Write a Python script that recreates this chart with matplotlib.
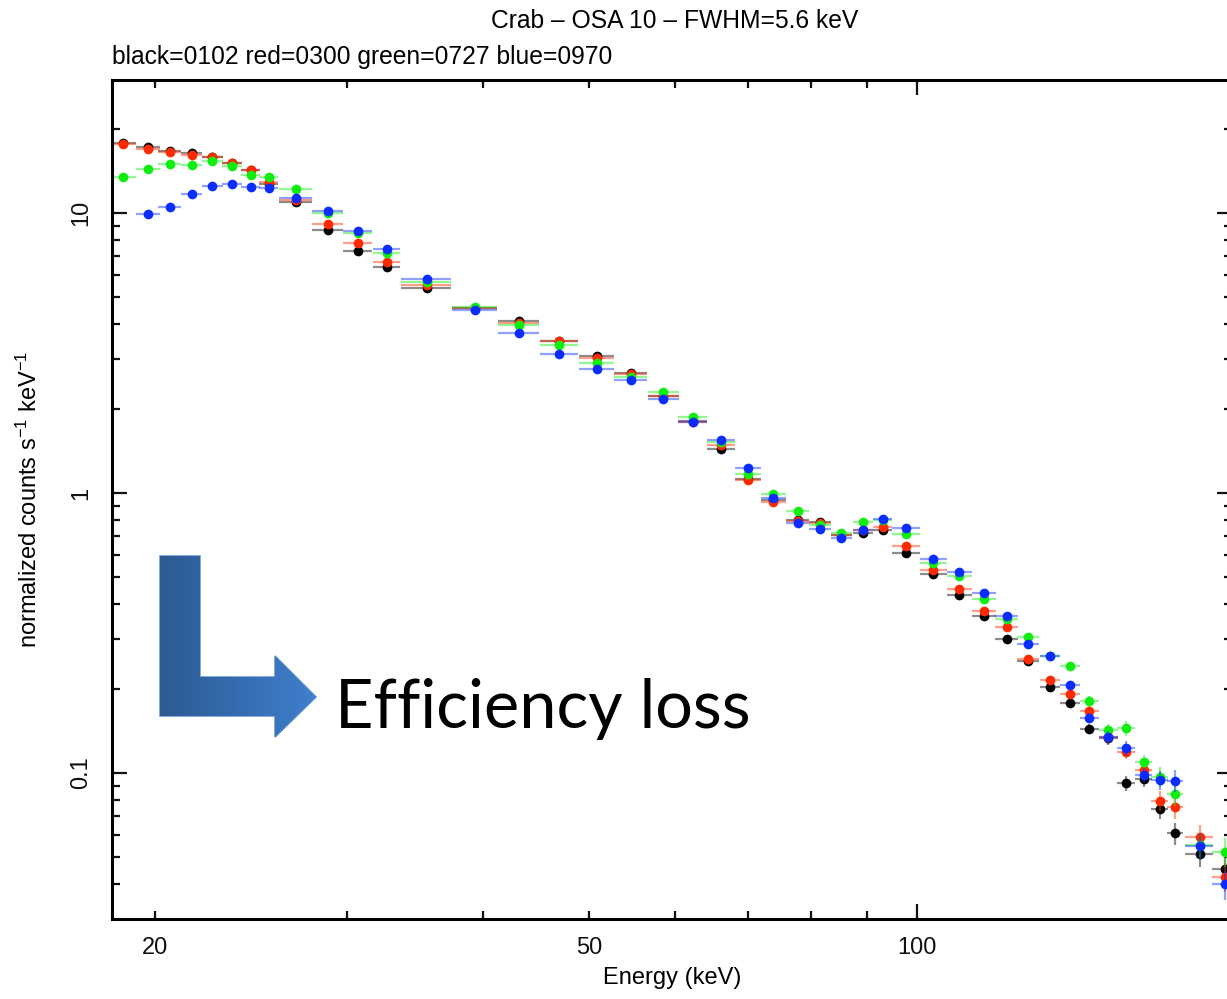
import numpy as np
import matplotlib
matplotlib.use("Agg")
import matplotlib.pyplot as plt
from matplotlib.patches import Polygon
from matplotlib.ticker import FixedLocator, NullFormatter, FuncFormatter

plt.rcParams['font.family'] = ['Liberation Sans', 'DejaVu Sans']
plt.rcParams['mathtext.fontset'] = 'custom'
plt.rcParams['mathtext.rm'] = 'Liberation Sans'
plt.rcParams['mathtext.it'] = 'Liberation Sans'

# Bin centres (keV) and half widths
energy = [18.70, 19.70, 20.64, 21.61, 22.58, 23.52, 24.48, 25.44, 26.92, 28.81,
          30.69, 32.63, 35.50, 39.32, 43.15, 46.97, 50.84, 54.67, 58.54, 62.28,
          66.12, 69.96, 73.85, 77.76, 81.56, 85.25, 89.19, 93.04, 97.73, 103.53,
          109.37, 115.23, 120.89, 126.53, 132.46, 138.19, 143.85, 149.84, 155.56,
          161.35, 166.89, 172.52, 181.60, 191.73]
half_width = [0.5] * 8 + [0.95] * 4 + [1.9] * 16 + [2.8] + [2.9] * 13 + [5.3, 5.3]

# relative 1-sigma errors (same for all revolutions)
rel_err = [0.005] * 28 + [0.01, 0.012, 0.015, 0.018, 0.02, 0.025, 0.03, 0.035,
                          0.04, 0.05, 0.06, 0.06, 0.08, 0.09, 0.1, 0.12]

black = [17.74, 17.17, 16.65, 16.34, 15.84, 15.05, 14.24, 12.69, 10.92, 8.70,
         7.33, 6.40, 5.40, 4.58, 4.12, 3.50, 3.09, 2.68, 2.22, 1.81,
         1.44, 1.122, 0.944, 0.801, 0.790, 0.708, 0.721, 0.738, 0.609, 0.514,
         0.432, 0.365, 0.300, 0.251, 0.203, 0.178, 0.1436, 0.133, 0.0919,
         0.0949, 0.0742, 0.0609, 0.0512, 0.0454]
red = [17.6, 16.97, 16.51, 16.07, 15.81, 15.05, 14.24, 12.87, 11.13, 9.13,
       7.79, 6.67, 5.53, 4.58, 4.06, 3.48, 3.04, 2.66, 2.22, 1.79,
       1.48, 1.113, 0.927, 0.796, 0.781, 0.708, 0.738, 0.758, 0.647, 0.531,
       0.454, 0.380, 0.331, 0.255, 0.214, 0.191, 0.167, 0.134, 0.119,
       0.1025, 0.0796, 0.0754, 0.0592, 0.0426]
green = [13.41, 14.32, 14.96, 14.80, 15.34, 14.76, 13.63, 13.48, 12.22, 9.98,
         8.48, 7.18, 5.67, 4.63, 3.98, 3.38, 2.92, 2.60, 2.30, 1.87,
         1.52, 1.169, 0.992, 0.862, 0.767, 0.718, 0.790, 0.801, 0.712, 0.562,
         0.505, 0.417, 0.355, 0.305, 0.262, 0.241, 0.181, 0.1424, 0.1444,
         0.1098, 0.0970, 0.0839, 0.0552, 0.0524]
blue = [np.nan, 9.89, 10.53, 11.69, 12.49, 12.73, 12.36, 12.29, 11.31, 10.19,
        8.63, 7.42, 5.81, 4.50, 3.74, 3.13, 2.77, 2.53, 2.16, 1.79,
        1.54, 1.231, 0.962, 0.783, 0.742, 0.689, 0.738, 0.806, 0.750, 0.581,
        0.524, 0.438, 0.364, 0.289, 0.262, 0.206, 0.157, 0.1341, 0.1225,
        0.0982, 0.0944, 0.0939, 0.0550, 0.0400]

series = [(black, 'black'), (red, '#ff2a00'), (green, '#10ee10'), (blue, '#0a2cff')]

fig = plt.figure(figsize=(12.27, 9.99), dpi=100)
ax = fig.add_axes([112 / 1227, 80 / 999, 1120 / 1227, 839 / 999])

x = np.array(energy)
for vals, col in series:
    y = np.array(vals)
    ax.errorbar(x, y, xerr=half_width, yerr=y * np.array(rel_err), fmt='none',
                ecolor=col, elinewidth=1.6, alpha=0.45, capsize=0)
    ax.plot(x, y, 'o', color=col, markersize=7, markeredgewidth=0)

ax.set_xscale('log')
ax.set_yscale('log')
ax.set_xlim(18.265, 194.5)
ax.set_ylim(0.0301, 29.85)

ax.xaxis.set_major_locator(FixedLocator([10, 100]))
ax.xaxis.set_minor_locator(FixedLocator([20, 30, 40, 50, 60, 70, 80, 90, 200]))
ax.xaxis.set_major_formatter(FuncFormatter(lambda v, p: '%d' % v))
ax.xaxis.set_minor_formatter(FuncFormatter(lambda v, p: '%d' % v if v in (20, 50) else ''))
ax.yaxis.set_major_locator(FixedLocator([0.1, 1, 10]))
ax.yaxis.set_minor_locator(FixedLocator([m * 10.0 ** d for d in (-2, -1, 0, 1) for m in range(2, 10)]))
ax.yaxis.set_major_formatter(FuncFormatter(lambda v, p: '%g' % v))
ax.yaxis.set_minor_formatter(NullFormatter())

ax.tick_params(which='both', direction='in', top=True, right=True, width=1.6,
               labelsize=17, colors='#111111')
ax.tick_params(which='major', length=11)
ax.tick_params(which='minor', length=6)
ax.tick_params(axis='x', which='both', pad=13)
ax.tick_params(axis='y', which='both', pad=14)
for lab in ax.get_yticklabels():
    lab.set_rotation(90)
    lab.set_va('center')
for sp in ax.spines.values():
    sp.set_linewidth(2.2)

ax.set_xlabel('Energy (keV)', fontsize=17, labelpad=6)
ax.set_ylabel(r'normalized counts s$^{-1}$ keV$^{-1}$', fontsize=17)
ax.yaxis.set_label_coords(-70 / 1120, 0.5)

fig.text(675 / 1227, 1 - 21 / 999, 'Crab \u2013 OSA 10 \u2013 FWHM=5.6 keV',
         ha='center', va='center', fontsize=17.7)
fig.text(112 / 1227, 1 - 57 / 999, 'black=0102 red=0300 green=0727 blue=0970',
         ha='left', va='center', fontsize=17.7)

# overlay in pixel coordinates for the annotation arrow
ov = fig.add_axes([0, 0, 1, 1], facecolor='none')
ov.set_xlim(0, 1227)
ov.set_ylim(999, 0)
ov.axis('off')
arrow_pts = [(160, 556), (200, 556), (200, 677), (275, 677), (275, 656),
             (316, 697), (275, 737), (275, 716), (160, 716)]
poly = Polygon(arrow_pts, closed=True, facecolor='none', edgecolor='#6f9ad6',
               linewidth=1.2)
ov.add_patch(poly)
grad = np.linspace(0, 1, 256).reshape(1, -1)
cmap = matplotlib.colors.LinearSegmentedColormap.from_list('g', ['#2d5a93', '#3f7fcd'])
im = ov.imshow(grad, extent=(160, 316, 737, 556), cmap=cmap, aspect='auto',
               interpolation='bilinear', zorder=1)
im.set_clip_path(poly)
ov.set_xlim(0, 1227)
ov.set_ylim(999, 0)
ov.text(335, 728, 'Efficiency loss', fontsize=48, family='Lato',
        ha='left', va='baseline', color='black')

fig.savefig('out.png', dpi=100)
